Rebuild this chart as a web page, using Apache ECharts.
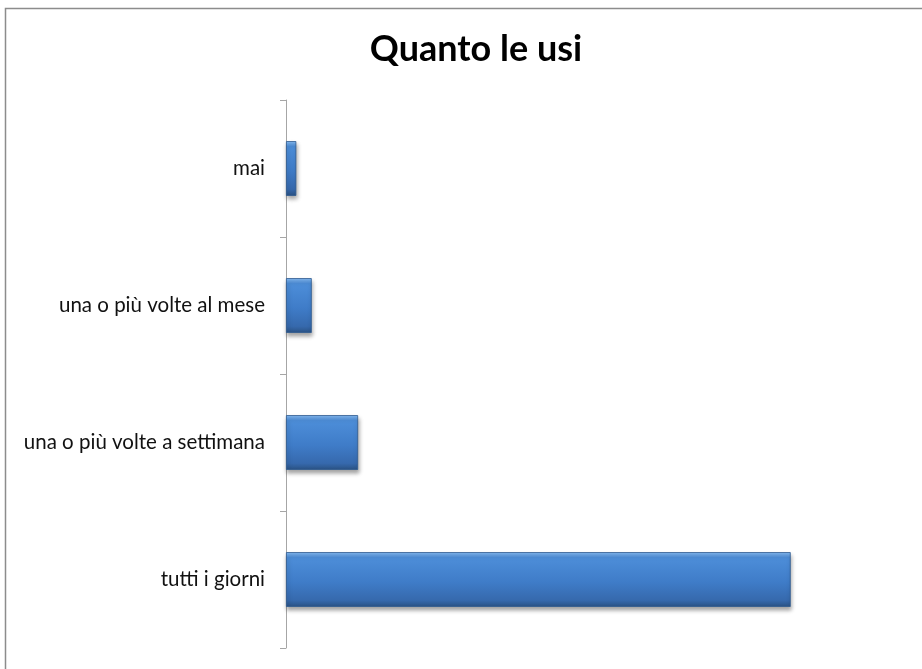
<!DOCTYPE html>
<html>
<head>
<meta charset="utf-8">
<script src="https://cdn.jsdelivr.net/npm/echarts@6/dist/echarts.min.js"></script>
<style>
  html, body { margin: 0; padding: 0; background: #fff; }
  #chart { width: 922px; height: 669px; }
</style>
</head>
<body>
<div id="chart"></div>
<script>
// categorie dal basso verso l'alto
const categories = ['tutti i giorni', 'una o più volte a settimana', 'una o più volte al mese', 'mai']
const values = [98, 14, 5, 2]
const titleText = 'Quanto le usi'

const chart = echarts.init(document.getElementById('chart'))

const barColor = new echarts.graphic.LinearGradient(0, 0, 0, 1, [
  { offset: 0, color: '#86bbf2' },
  { offset: 0.1, color: '#4d8ed9' },
  { offset: 0.55, color: '#3f7cc8' },
  { offset: 0.88, color: '#3669ad' },
  { offset: 1, color: '#2a5283' }
])

const options = {
  backgroundColor: '#fff',
  animation: false,
  title: {
    text: titleText,
    left: 471,
    top: 26,
    textAlign: 'center',
    textStyle: {
      fontFamily: 'Lato',
      fontWeight: 'bold',
      fontSize: 36,
      color: '#000'
    }
  },
  graphic: [
    {
      type: 'rect',
      shape: { x: 5.5, y: 8.5, width: 1000, height: 1000 },
      style: { fill: 'none', stroke: '#8c8c8c', lineWidth: 1.5 },
      silent: true
    }
  ],
  grid: {
    left: 286,
    top: 100,
    bottom: 21,
    width: 618
  },
  xAxis: {
    type: 'value',
    min: 0,
    max: 120,
    show: false
  },
  yAxis: {
    type: 'category',
    data: categories,
    axisLine: { show: true, lineStyle: { color: '#a6a6a6', width: 1 } },
    axisTick: { show: true, length: 6, lineStyle: { color: '#a6a6a6' } },
    axisLabel: {
      margin: 21,
      color: '#111',
      fontFamily: 'Lato',
      fontSize: 20.5
    }
  },
  series: [
    {
      type: 'bar',
      data: values,
      barCategoryGap: '60%',
      itemStyle: {
        color: barColor,
        borderColor: '#2f5b8f',
        borderWidth: 0.8,
        shadowColor: 'rgba(0,0,0,0.35)',
        shadowBlur: 4,
        shadowOffsetX: 1,
        shadowOffsetY: 3
      }
    }
  ]
}

chart.setOption(options)
</script>
</body>
</html>
